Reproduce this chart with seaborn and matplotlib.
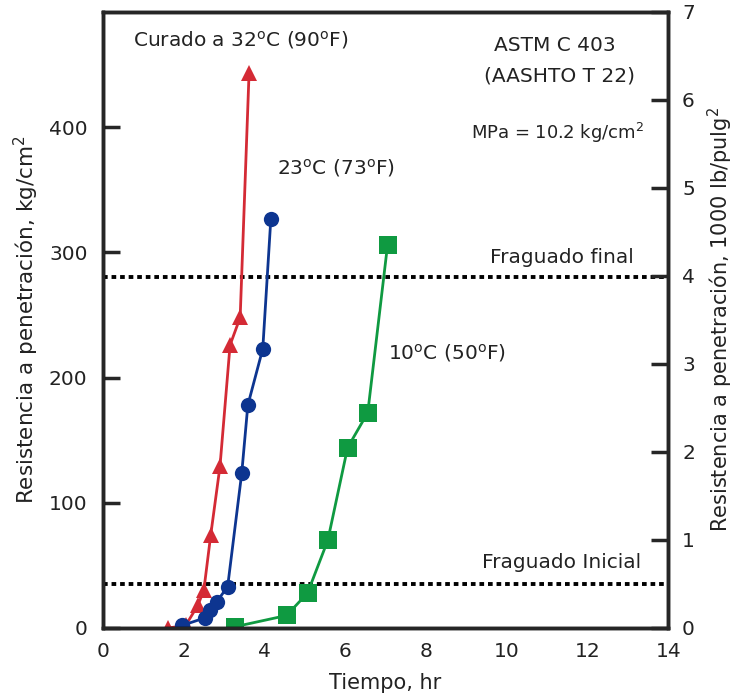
"""
    Resistencia a penetracion vs tiempo de fraguado (ASTM C 403)
"""

import matplotlib
matplotlib.use("Agg")
import matplotlib.pyplot as plt
import seaborn as sns
import pandas as pd

# data
t_32 = [1.62, 2.05, 2.35, 2.5, 2.67, 2.9, 3.15, 3.4, 3.62]
r_32 = [0, 2, 18, 30, 74, 129, 226, 248, 443]
t_23 = [1.96, 2.52, 2.65, 2.82, 3.09, 3.44, 3.59, 3.96, 4.16]
r_23 = [2, 8, 14, 21, 33, 124, 178, 223, 327]
t_10 = [3.27, 4.55, 5.07, 5.57, 6.06, 6.56, 7.05]
r_10 = [1, 10, 28, 70, 144, 172, 306]
series = ["32C", "23C", "10C"]
final_set = 280
initial_set = 35
kg_per_kpsi = 70.3

df = pd.concat([
    pd.DataFrame({"t": t_32, "r": r_32, "serie": series[0]}),
    pd.DataFrame({"t": t_23, "r": r_23, "serie": series[1]}),
    pd.DataFrame({"t": t_10, "r": r_10, "serie": series[2]}),
])

sns.set_style("white")
plt.rcParams["font.family"] = ["DejaVu Sans"]
plt.rcParams["mathtext.fontset"] = "dejavusans"
txt = "#222222"
fs = 14.5

fig = plt.figure(figsize=(7.4, 6.98), dpi=100)
ax = fig.add_axes([0.139, 0.1003, 0.764, 0.8827])

colors = {"32C": "#d42a35", "23C": "#0d3590", "10C": "#0f9a41"}
markers = {"32C": "^", "23C": "o", "10C": "s"}
sizes = {"32C": 12, "23C": 11, "10C": 13}

for s in series:
    sub = df[df["serie"] == s]
    sns.lineplot(data=sub, x="t", y="r", ax=ax, color=colors[s], marker=markers[s],
                 markersize=sizes[s], markeredgewidth=0, linewidth=2,
                 estimator=None, sort=False, legend=False)

ax.axhline(final_set, color="black", lw=2.8, ls=(0, (1.2, 1)), zorder=1)
ax.axhline(initial_set, color="black", lw=2.8, ls=(0, (1.2, 1)), zorder=1)

ymax = 7 * kg_per_kpsi
ax.set_xlim(0, 14)
ax.set_ylim(0, ymax)
ax.set_xticks(range(0, 15, 2))
ax.set_yticks([0, 100, 200, 300, 400])
ax.set_xlabel("Tiempo, hr", fontsize=15, color=txt, labelpad=9)
ax.set_ylabel("Resistencia a penetración, kg/cm$^2$", fontsize=15.5, color=txt, labelpad=6)
ax.tick_params(axis="y", direction="in", length=12, width=2.5, labelsize=fs, labelcolor=txt, pad=11)
ax.tick_params(axis="x", direction="in", length=12, width=2.5, labelsize=fs, labelcolor=txt, pad=10)
for sp in ax.spines.values():
    sp.set_linewidth(2.5)
    sp.set_color("black")

ax2 = ax.twinx()
ax2.set_ylim(0, 7)
ax2.set_yticks(range(0, 8))
ax2.set_ylabel("Resistencia a penetración, 1000 lb/pulg$^2$", fontsize=15, color=txt,
               rotation=90, labelpad=8)
ax2.tick_params(direction="in", length=12, width=2.5, labelsize=fs, labelcolor=txt, pad=10)
for sp in ax2.spines.values():
    sp.set_linewidth(2.5)

deg = r"$^{\mathrm{o}}$"
ax.text(0.75, 470, f"Curado a 32{deg}C (90{deg}F)", fontsize=fs, color=txt, va="center")
ax.text(4.3, 367, f"23{deg}C (73{deg}F)", fontsize=fs, color=txt, va="center")
ax.text(7.05, 220, f"10{deg}C (50{deg}F)", fontsize=fs, color=txt, va="center")
ax.text(11.2, 465, "ASTM C 403", fontsize=fs, color=txt, ha="center", va="center")
ax.text(11.3, 441, "(AASHTO T 22)", fontsize=fs, color=txt, ha="center", va="center")
ax.text(11.25, 395, "MPa = 10.2 kg/cm$^2$", fontsize=13, color=txt, ha="center", va="center")
ax.text(11.36, 296, "Fraguado final", fontsize=fs, color=txt, ha="center", va="center")
ax.text(11.36, 52, "Fraguado Inicial", fontsize=fs, color=txt, ha="center", va="center")

fig.savefig("out.png", dpi=100)
